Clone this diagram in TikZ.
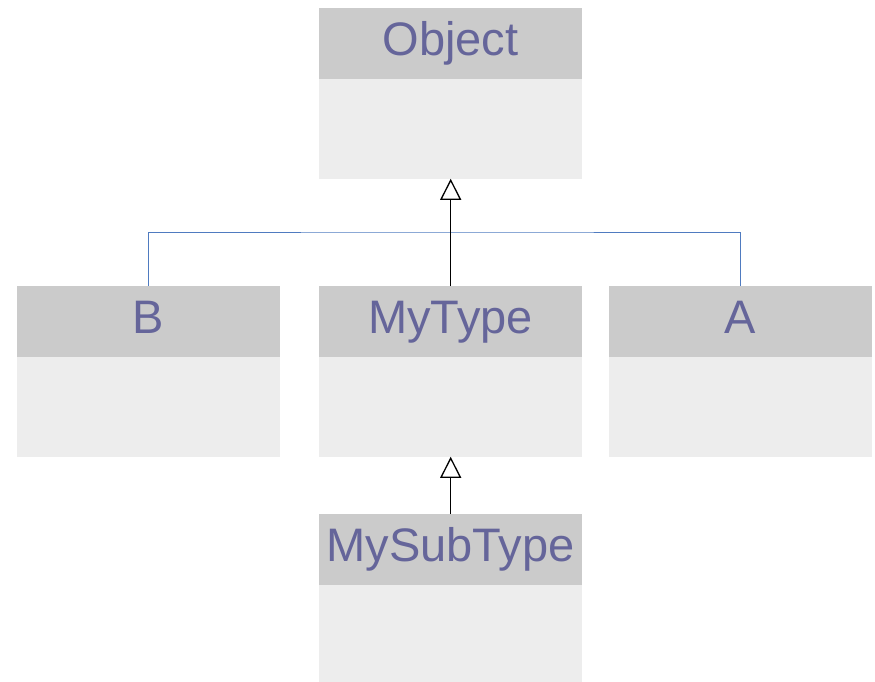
\documentclass[tikz,border=0pt]{standalone}
\usepackage{fontspec}
\setmainfont{Liberation Sans}
\usetikzlibrary{arrows.meta}
\definecolor{hdr}{HTML}{CBCBCB}
\definecolor{bdy}{HTML}{EDEDED}
\definecolor{txt}{HTML}{65659A}
\definecolor{lnk}{HTML}{4F7BC0}
\tikzset{
  hdrbox/.style={rectangle, fill=hdr, draw=none, inner sep=0pt, minimum width=263pt, minimum height=71pt, anchor=north west},
  bdybox/.style={rectangle, fill=bdy, draw=none, inner sep=0pt, minimum width=263pt, minimum height=99.6pt, anchor=north},
  lbl/.style={anchor=base, inner sep=0pt, text=txt, font=\fontsize{47pt}{50pt}\selectfont},
  gen/.style={draw=black, line width=1pt, -{Triangle[length=21pt, width=21pt, fill=white, line width=1.3pt]}},
  assoc/.style={draw=lnk, line width=1pt}
}
\begin{document}
\begin{tikzpicture}[x=1pt, y=-1pt]
\useasboundingbox (0,0) rectangle (875,681);
% Object
\node[hdrbox] (objh) at (319,8) {};
\node[bdybox] (objb) at ([yshift=0.6pt]objh.south) {};
\node[lbl] (objt) at (450.5,55) {Object};
% B
\node[hdrbox] (bh) at (17,286) {};
\node[bdybox] (bb) at ([yshift=0.6pt]bh.south) {};
\node[lbl] (bt) at (148.5,333) {B};
% MyType
\node[hdrbox] (mh) at (319,286) {};
\node[bdybox] (mb) at ([yshift=0.6pt]mh.south) {};
\node[lbl] (mt) at (450.5,333) {MyType};
% A
\node[hdrbox] (ah) at (609,286) {};
\node[bdybox] (ab) at ([yshift=0.6pt]ah.south) {};
\node[lbl] (at) at (740.5,333) {A};
% MySubType
\node[hdrbox] (sh) at (319,514) {};
\node[bdybox, minimum height=97.6pt] (sb) at ([yshift=0.6pt]sh.south) {};
\node[lbl] (st) at (450.5,561) {MySubType};
% connectors
\coordinate (j) at (450,232);
\draw[assoc] (bh.north) |- (j) -| (ah.north);
\draw[gen] (mh.north) -- (objb.south);
\draw[gen] (sh.north) -- (mb.south);
\end{tikzpicture}
\end{document}
